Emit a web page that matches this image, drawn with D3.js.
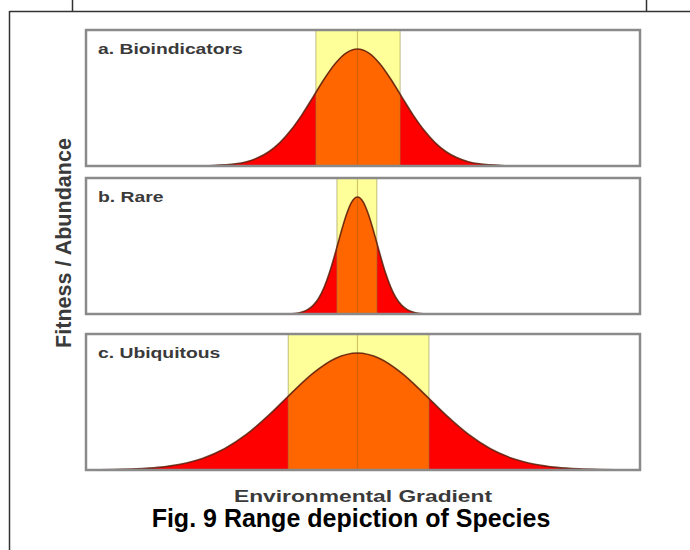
<!DOCTYPE html>
<html>
<head>
<meta charset="utf-8">
<script src="https://cdn.jsdelivr.net/npm/d3@7"></script>
<style>
  html, body { margin: 0; padding: 0; background: #fff; }
  svg { display: block; }
  text { font-family: "Liberation Sans", Arial, sans-serif; }
</style>
</head>
<body>
<svg id="chart" width="690" height="550"></svg>
<script>
// ---------------- data ----------------
const panelNames = ["a. Bioindicators", "b. Rare", "c. Ubiquitous"];

// positions along the environmental gradient (0-100) and fitness/abundance (0-1)
const gradientA = [21,23,25,27,29,31,33,35,37,39,41,43,45,47,49,51,53,55,57,59,61,63,65,67,69,71,73,75,77];
const fitnessA  = [0,0.003,0.008,0.016,0.032,0.060,0.105,0.172,0.264,0.378,0.508,0.640,0.754,0.832,0.860,0.832,0.754,0.640,0.508,0.378,0.264,0.172,0.105,0.060,0.032,0.016,0.008,0.003,0];

const gradientB = [36,37,38,39,40,41,42,43,44,45,46,47,48,49,50,51,52,53,54,55,56,57,58,59,60,61,62];
const fitnessB  = [0,0.002,0.006,0.015,0.032,0.063,0.116,0.198,0.310,0.448,0.596,0.730,0.826,0.860,0.826,0.730,0.596,0.448,0.310,0.198,0.116,0.063,0.032,0.015,0.006,0.002,0];

const gradientC = [1,5,9,13,17,21,25,29,33,37,41,45,49,53,57,61,65,69,73,77,81,85,89,93,97];
const fitnessC  = [0.001,0.003,0.008,0.019,0.042,0.085,0.156,0.263,0.403,0.562,0.712,0.820,0.860,0.820,0.712,0.562,0.403,0.263,0.156,0.085,0.042,0.019,0.008,0.003,0.001];

const optimum   = [49, 49, 49];
const bandLow   = [41.5, 45.3, 36.5];
const bandHigh  = [56.7, 52.5, 61.9];

const yLabel = "Fitness / Abundance";
const xLabel = "Environmental Gradient";
const caption = "Fig. 9 Range depiction of Species";

// ---------------- drawing ----------------
const svg = d3.select("#chart");
const gradients = [gradientA, gradientB, gradientC];
const fitness = [fitnessA, fitnessB, fitnessC];

const panelLeft = 86, panelRight = 640;
const panelTops = [30, 178, 334];
const panelH = 136;
const hStretch = 1.38;

const x = d3.scaleLinear().domain([0, 100]).range([panelLeft, panelRight]);

// outer frame (table border)
const frame = svg.append("g").attr("stroke", "#333").attr("stroke-width", 1.5).attr("fill", "none");
frame.append("line").attr("x1", 9.5).attr("x2", 690).attr("y1", 11.5).attr("y2", 11.5);
frame.append("line").attr("x1", 9.5).attr("x2", 9.5).attr("y1", 11).attr("y2", 550);
frame.append("line").attr("x1", 72.5).attr("x2", 72.5).attr("y1", 0).attr("y2", 11);
frame.append("line").attr("x1", 646.5).attr("x2", 646.5).attr("y1", 0).attr("y2", 11);

panelNames.forEach((name, i) => {
  const top = panelTops[i], bottom = top + panelH;
  const y = d3.scaleLinear().domain([0, 1]).range([bottom, top]);
  const pts = gradients[i].map((g, j) => ({ g, v: fitness[i][j] }));
  const g = svg.append("g");

  g.append("rect").attr("x", panelLeft).attr("y", top)
    .attr("width", panelRight - panelLeft).attr("height", panelH).attr("fill", "#fff");

  // tolerance band
  const bx0 = x(bandLow[i]), bx1 = x(bandHigh[i]);
  g.append("rect").attr("x", bx0).attr("y", top).attr("width", bx1 - bx0).attr("height", panelH)
    .attr("fill", "#ffff99");

  const area = d3.area().x(d => x(d.g)).y0(y(0)).y1(d => y(d.v)).curve(d3.curveMonotoneX);
  const line = d3.line().x(d => x(d.g)).y(d => y(d.v)).curve(d3.curveMonotoneX);

  g.append("path").datum(pts).attr("d", area).attr("fill", "#ff0000");

  const clipId = "band" + i;
  svg.append("clipPath").attr("id", clipId).append("rect")
    .attr("x", bx0).attr("y", top).attr("width", bx1 - bx0).attr("height", panelH);
  g.append("path").datum(pts).attr("d", area).attr("fill", "#ff6600").attr("clip-path", `url(#${clipId})`);

  // band edges and optimum line
  [bandLow[i], bandHigh[i]].forEach(b => {
    g.append("line").attr("x1", x(b)).attr("x2", x(b)).attr("y1", top).attr("y2", bottom)
      .attr("stroke", "#8a8440").attr("stroke-opacity", 0.55).attr("stroke-width", 1);
  });
  g.append("line").attr("x1", x(optimum[i])).attr("x2", x(optimum[i])).attr("y1", top).attr("y2", bottom)
    .attr("stroke", "#7a5a10").attr("stroke-opacity", 0.35).attr("stroke-width", 1.2);

  g.append("path").datum(pts).attr("d", line).attr("fill", "none")
    .attr("stroke", "#5a1e0c").attr("stroke-opacity", 0.85).attr("stroke-width", 1.6);

  g.append("rect").attr("x", panelLeft).attr("y", top)
    .attr("width", panelRight - panelLeft).attr("height", panelH)
    .attr("fill", "none").attr("stroke", "#8a8a8a").attr("stroke-width", 2.5);

  g.append("text")
    .attr("transform", `translate(${panelLeft + 12},${top + 24}) scale(${hStretch},1)`)
    .attr("font-size", 14).attr("font-weight", "bold").attr("fill", "#3a3a3a").text(name);
});

// axis titles
const yt = svg.append("text").attr("text-anchor", "middle").attr("font-size", 18).attr("font-weight", "bold")
  .attr("fill", "#3a3a3a").text(yLabel);
const yw = yt.node().getComputedTextLength();
yt.attr("transform", `translate(71,243) rotate(-90) scale(${210 / yw},1.2)`);

svg.append("text").attr("transform", `translate(363,502) scale(${hStretch},1)`).attr("text-anchor", "middle")
  .attr("font-size", 16.5).attr("font-weight", "bold").attr("fill", "#3a3a3a").text(xLabel);

svg.append("text").attr("x", 351).attr("y", 527).attr("text-anchor", "middle")
  .attr("font-size", 25).attr("font-weight", "bold").attr("fill", "#000").text(caption);
</script>
</body>
</html>
